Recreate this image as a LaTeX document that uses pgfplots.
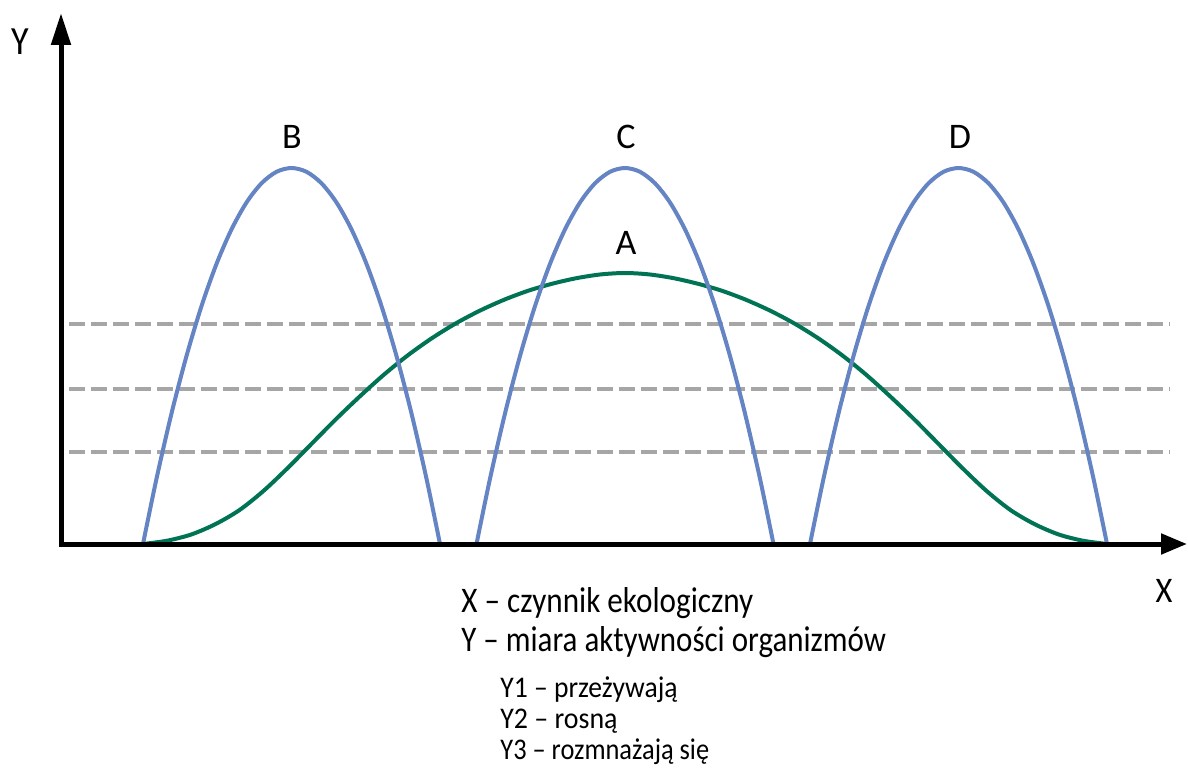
\documentclass[border=0pt]{standalone}
\usepackage{fontspec}
\setmainfont{Carlito}
\usepackage{graphicx}
\usepackage{pgfplots}
\pgfplotsset{compat=1.18}
\usetikzlibrary{arrows.meta}
\definecolor{cblue}{RGB}{100,132,196}
\definecolor{cgreen}{RGB}{0,115,85}
\definecolor{cgray}{RGB}{166,166,166}
\begin{document}
\begin{tikzpicture}
\begin{axis}[
  scale only axis, width=594pt, height=383.5pt,
  xmin=0, xmax=1188, ymin=-223, ymax=544,
  hide axis, clip=false,
]
% dashed levels
\addplot[cgray, line width=2pt, dash pattern=on 8pt off 3pt] coordinates {(69,220) (1170,220)};
\addplot[cgray, line width=2pt, dash pattern=on 8pt off 3pt] coordinates {(69,155) (1170,155)};
\addplot[cgray, line width=2pt, dash pattern=on 8pt off 3pt] coordinates {(69,92) (1170,92)};
% A
\addplot[cgreen, line width=2pt, smooth] coordinates {
(143,0) (167.1,3.3) (191.2,9.5) (215.3,19.8) (239.4,33.9) (263.5,53.1) (287.6,75.9)
(311.7,100.3) (335.8,124.7) (359.9,147.7) (384,169.4) (408.1,188.9) (432.2,206)
(456.3,220.9) (480.4,233.6) (504.5,244.4) (528.6,253.4) (552.7,260.4) (576.8,265.9)
(600.9,269.6) (625,271)
(649.1,269.6) (673.2,265.9) (697.3,260.4) (721.4,253.4) (745.5,244.4) (769.6,233.6)
(793.7,220.9) (817.8,206) (841.9,188.9) (866,169.4) (890.1,147.7) (914.2,124.7)
(938.3,100.3) (962.4,75.9) (986.5,53.1) (1010.6,33.9) (1034.7,19.8) (1058.8,9.5)
(1082.9,3.3) (1107,0)};
% B
\addplot[cblue, line width=2pt, smooth] coordinates {
(143,0) (156.5,65.3) (171.5,130.5) (186.5,188) (201.5,237.9) (216.5,280.1) (231.5,314.6)
(246.5,341.5) (261.5,360.7) (276.5,372.2) (291.5,376) (306.5,372.2) (321.5,360.7)
(336.5,341.5) (351.5,314.6) (366.5,280.1) (381.5,237.9) (396.5,188) (411.5,130.5)
(426.5,65.3) (440,0)};
% C
\addplot[cblue, line width=2pt, smooth] coordinates {
(476.5,0) (490,65.3) (505,130.5) (520,188) (535,237.9) (550,280.1) (565,314.6)
(580,341.5) (595,360.7) (610,372.2) (625,376) (640,372.2) (655,360.7)
(670,341.5) (685,314.6) (700,280.1) (715,237.9) (730,188) (745,130.5)
(760,65.3) (773.5,0)};
% D
\addplot[cblue, line width=2pt, smooth] coordinates {
(810,0) (823.5,65.3) (838.5,130.5) (853.5,188) (868.5,237.9) (883.5,280.1) (898.5,314.6)
(913.5,341.5) (928.5,360.7) (943.5,372.2) (958.5,376) (973.5,372.2) (988.5,360.7)
(1003.5,341.5) (1018.5,314.6) (1033.5,280.1) (1048.5,237.9) (1063.5,188) (1078.5,130.5)
(1093.5,65.3) (1107,0)};
% axes
\draw[line width=2.5pt, -{Triangle[length=16pt, width=9.5pt]}] (axis cs:61,-1.2) -- (axis cs:61,531);
\draw[line width=2.5pt, -{Triangle[length=13pt, width=10pt]}] (axis cs:59,0) -- (axis cs:1187,0);
% labels
\node[anchor=base, font=\fontsize{20}{22}\selectfont, inner sep=0] at (axis cs:20,489) {\scalebox{0.9}[1]{Y}};
\node[anchor=base, font=\fontsize{18}{20}\selectfont, inner sep=0] at (axis cs:1164,-58) {\scalebox{0.9}[1]{X}};
\node[anchor=base, font=\fontsize{18}{20}\selectfont, inner sep=0] at (axis cs:292,395) {B};
\node[anchor=base, font=\fontsize{18}{20}\selectfont, inner sep=0] at (axis cs:626,395) {C};
\node[anchor=base, font=\fontsize{18}{20}\selectfont, inner sep=0] at (axis cs:960,395) {D};
\node[anchor=base, font=\fontsize{18}{20}\selectfont, inner sep=0] at (axis cs:626,289) {A};
\node[anchor=base west, font=\fontsize{18}{20}\selectfont, inner sep=0] at (axis cs:461,-68) {\scalebox{0.865}[1]{X – czynnik ekologiczny}};
\node[anchor=base west, font=\fontsize{18}{20}\selectfont, inner sep=0] at (axis cs:461,-107) {\scalebox{0.86}[1]{Y – miara aktywności organizmów}};
\node[anchor=base west, font=\fontsize{15}{17}\selectfont, inner sep=0] at (axis cs:500,-153) {\scalebox{0.92}[1]{Y1 – przeżywają}};
\node[anchor=base west, font=\fontsize{15}{17}\selectfont, inner sep=0] at (axis cs:500,-184) {\scalebox{0.93}[1]{Y2 – rosną}};
\node[anchor=base west, font=\fontsize{15}{17}\selectfont, inner sep=0] at (axis cs:500,-215) {\scalebox{0.88}[1]{Y3 – rozmnażają się}};
\end{axis}
\pgfresetboundingbox
\path[use as bounding box] (current axis.south west) rectangle (current axis.north east);
\end{tikzpicture}
\end{document}
